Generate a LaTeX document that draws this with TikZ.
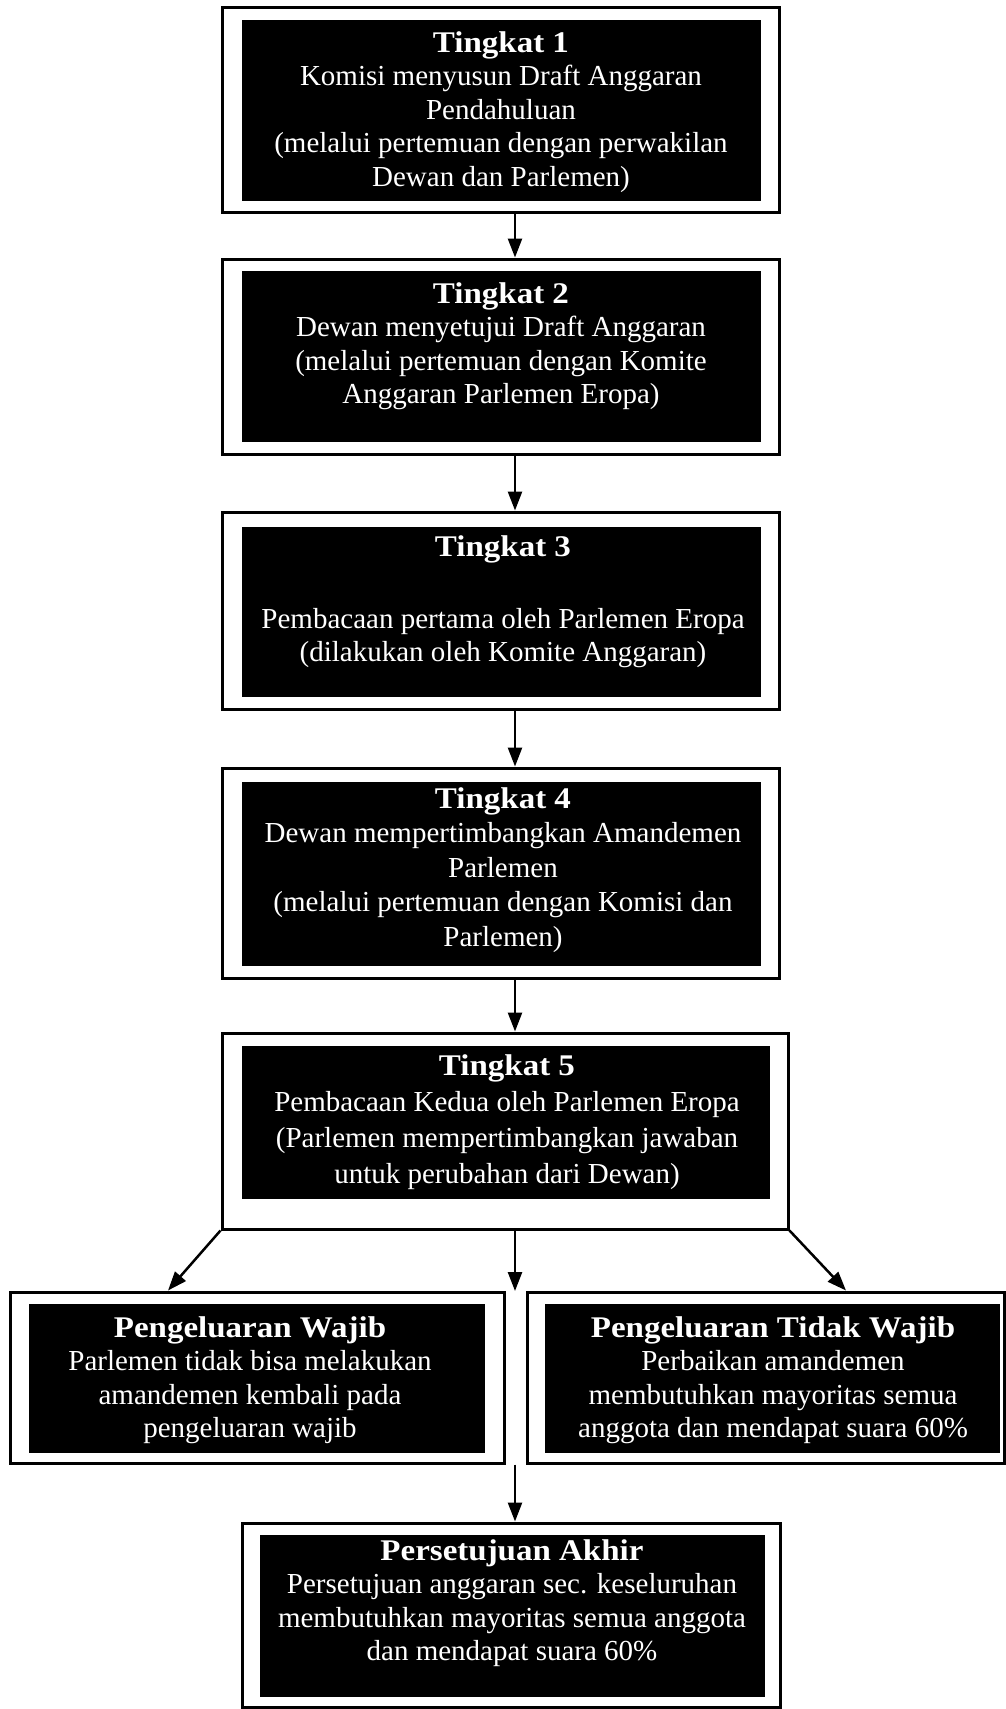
\documentclass[tikz,border=0pt]{standalone}
\usepackage{fontspec}
\setmainfont{Liberation Serif}[BoldFeatures={FakeStretch=1.1}]
\usetikzlibrary{arrows.meta}
\newcommand\boxtitle[1]{{\fontsize{30}{33.5}\selectfont\bfseries #1}}
\begin{document}
\begin{tikzpicture}[x=1pt,y=-1pt,
  frame/.style={draw=black, line width=3pt, fill=white, inner sep=0pt},
  blk/.style={fill=black, draw=none, inner sep=0pt},
  txt/.style={text=white, align=center, inner sep=0pt, font=\fontsize{29}{33.5}\selectfont},
  arr/.style={line width=2.5pt, -{Triangle[length=19pt,width=14pt]}}]
\useasboundingbox[fill=white] (0,0) rectangle (1006,1709);
\coordinate (ax) at (515,0);
\coordinate (dl) at (168,0);
\coordinate (dr) at (846,0);
% Tingkat 1
\node[frame, minimum width=557, minimum height=205] (b1) at (500.5,109.5) {};
\node[blk, minimum width=519, minimum height=181] (b1i) at (501.5,110.5) {};
\node[txt] (t1) at (501,112) {\boxtitle{Tingkat 1}\\Komisi menyusun Draft Anggaran\\Pendahuluan\\(melalui pertemuan dengan perwakilan\\Dewan dan Parlemen)};
% Tingkat 2
\node[frame, minimum width=557, minimum height=195] (b2) at (500.5,356.5) {};
\node[blk, minimum width=519, minimum height=171] (b2i) at (501.5,356.5) {};
\node[txt] (t2) at (501,346) {\boxtitle{Tingkat 2}\\Dewan menyetujui Draft Anggaran\\(melalui pertemuan dengan Komite\\Anggaran Parlemen Eropa)};
% Tingkat 3
\node[frame, minimum width=557, minimum height=197] (b3) at (500.5,610.5) {};
\node[blk, minimum width=519, minimum height=170] (b3i) at (501.5,612) {};
\node[txt] (t3) at (503,602) {\boxtitle{Tingkat 3}\\[38pt]Pembacaan pertama oleh Parlemen Eropa\\(dilakukan oleh Komite Anggaran)};
% Tingkat 4
\node[frame, minimum width=557, minimum height=210] (b4) at (500.5,873) {};
\node[blk, minimum width=519, minimum height=184] (b4i) at (501.5,874) {};
\node[txt, font=\fontsize{29}{34.5}\selectfont] (t4) at (503,870) {\boxtitle{Tingkat 4}\\Dewan mempertimbangkan Amandemen\\Parlemen\\(melalui pertemuan dengan Komisi dan\\Parlemen)};
% Tingkat 5
\node[frame, minimum width=566, minimum height=196] (b5) at (505,1131) {};
\node[blk, minimum width=528, minimum height=153] (b5i) at (506,1122.5) {};
\node[txt, font=\fontsize{29}{36}\selectfont] (t5) at (507,1122) {\boxtitle{Tingkat 5}\\Pembacaan Kedua oleh Parlemen Eropa\\(Parlemen mempertimbangkan jawaban\\untuk perubahan dari Dewan)};
% Pengeluaran Wajib
\node[frame, minimum width=494, minimum height=171] (pw) at (257,1377.5) {};
\node[blk, minimum width=456, minimum height=149] (pwi) at (257,1378.5) {};
\node[txt] (tpw) at (250,1380) {\boxtitle{Pengeluaran Wajib}\\Parlemen tidak bisa melakukan\\amandemen kembali pada\\pengeluaran wajib};
% Pengeluaran Tidak Wajib
\node[frame, minimum width=477, minimum height=171] (ptw) at (765.5,1377.5) {};
\node[blk, minimum width=455, minimum height=149] (ptwi) at (772.5,1378.5) {};
\node[txt] (tptw) at (773,1380) {\boxtitle{Pengeluaran Tidak Wajib}\\Perbaikan amandemen\\membutuhkan mayoritas semua\\anggota dan mendapat suara 60\%};
% Persetujuan Akhir
\node[frame, minimum width=538, minimum height=184] (pa) at (511,1615) {};
\node[blk, minimum width=505, minimum height=162] (pai) at (512.5,1616) {};
\node[txt] (tpa) at (512,1603) {\boxtitle{Persetujuan Akhir}\\Persetujuan anggaran sec. keseluruhan\\membutuhkan mayoritas semua anggota\\dan mendapat suara 60\%};
% connectors
\draw[arr] (b1.south -| ax) -- (b2.north -| ax);
\draw[arr] (b2.south -| ax) -- (b3.north -| ax);
\draw[arr] (b3.south -| ax) -- (b4.north -| ax);
\draw[arr] (b4.south -| ax) -- (b5.north -| ax);
\coordinate (gapend) at (515,1291);
\draw[arr] (b5.south -| ax) -- (gapend);
\draw[arr] (b5.south west) -- (pw.north -| dl);
\draw[arr] (b5.south east) -- (ptw.north -| dr);
\draw[arr] (pw.south -| ax) -- (pa.north -| ax);
\end{tikzpicture}
\end{document}
